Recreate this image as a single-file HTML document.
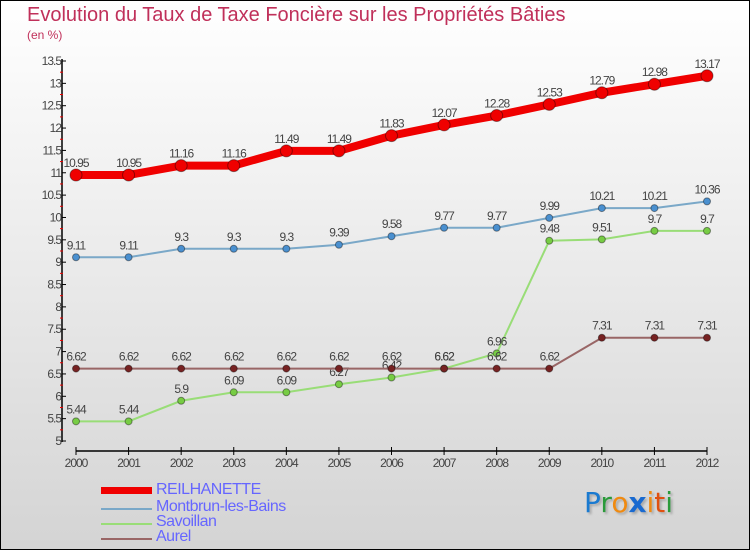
<!DOCTYPE html>
<html><head><meta charset="utf-8"><style>
body{margin:0}
#wrap{position:relative;width:748px;height:548px;border:1px solid #000;background:linear-gradient(#ffffff,#d4d4d4);font-family:"Liberation Sans",sans-serif;overflow:hidden}
.t{position:absolute;color:#c0305a}
.leg{position:absolute;left:155px;font-size:16px;color:#6666ff;letter-spacing:-0.5px}
.ll{position:absolute;left:100px;width:51px}
</style></head><body>
<div id="wrap">
<div class="t" style="left:26px;top:3px;font-size:20px">Evolution du Taux de Taxe Foncière sur les Propriétés Bâties</div>
<div class="t" style="left:26px;top:27px;font-size:12px">(en %)</div>
<svg id="svg" width="748" height="548" style="position:absolute;left:0;top:0"></svg>
<div class="ll" style="top:486px;height:7px;background:#f00000"></div>
<div class="leg" style="top:480px">REILHANETTE</div>
<div class="ll" style="top:507px;height:2px;background:#7aa8c8"></div>
<div class="leg" style="top:497px">Montbrun-les-Bains</div>
<div class="ll" style="top:522px;height:2px;background:#99dd77"></div>
<div class="leg" style="top:512px">Savoillan</div>
<div class="ll" style="top:537px;height:2px;background:#996666"></div>
<div class="leg" style="top:527px">Aurel</div>
<div style="position:absolute;left:583px;top:485px;font-size:28px;font-family:'DejaVu Sans',sans-serif;text-shadow:2px 2px 2px #aaa"><span style="color:#1a7ad0">P</span><span style="color:#2a9a3a">r</span><span style="color:#f08a10">o</span><span style="color:#1a6ad0;font-weight:bold">x</span><span style="color:#f08a10">i</span><span style="color:#e05010">t</span><span style="color:#2a9a3a">i</span></div>
</div>
<script>
const years=["2000","2001","2002","2003","2004","2005","2006","2007","2008","2009","2010","2011","2012"];
const yTicks=[5,5.5,6,6.5,7,7.5,8,8.5,9,9.5,10,10.5,11,11.5,12,12.5,13,13.5];
const reilhanette=[10.95,10.95,11.16,11.16,11.49,11.49,11.83,12.07,12.28,12.53,12.79,12.98,13.17];
const montbrun=[9.11,9.11,9.3,9.3,9.3,9.39,9.58,9.77,9.77,9.99,10.21,10.21,10.36];
const savoillan=[5.44,5.44,5.9,6.09,6.09,6.27,6.42,6.62,6.96,9.48,9.51,9.7,9.7];
const aurel=[6.62,6.62,6.62,6.62,6.62,6.62,6.62,6.62,6.62,6.62,7.31,7.31,7.31];
const svg=document.getElementById('svg');const NS='http://www.w3.org/2000/svg';
const X=i=>75+i*(706-75)/12, Y=v=>440-(v-5)*(380/8.5);
function mk(t,a,p){const e=document.createElementNS(NS,t);for(const k in a)e.setAttribute(k,a[k]);(p||svg).appendChild(e);return e;}
let e;
e=mk('line',{x1:61,y1:58,x2:61,y2:441,stroke:'#000','stroke-width':1.5});


e=mk('line',{x1:75,y1:450,x2:706,y2:450,stroke:'#000','stroke-width':1.5});


yTicks.forEach((v,i)=>{mk('line',{x1:61,x2:65,y1:Y(v),y2:Y(v),stroke:'#000'});
 if(i<yTicks.length-1)mk('line',{x1:59,x2:62,y1:Y(v+0.25),y2:Y(v+0.25),stroke:'#e00'});
 e=mk('text',{x:60,y:Y(v)+4,'text-anchor':'end','font-size':12,fill:'#444','letter-spacing':'-1'});e.textContent=v;
 
 });
years.forEach((y,i)=>{mk('line',{x1:X(i),x2:X(i),y1:446,y2:454,stroke:'#000'});
 e=mk('text',{x:X(i),y:466,'text-anchor':'middle','font-size':12,fill:'#444','letter-spacing':'-1'});e.textContent=y;
 
 });
function series(d,name,col,w,r,fillc){
 const g=mk('g',{});
 mk('polyline',{points:d.map((v,i)=>X(i)+','+Y(v)).join(' '),fill:'none',stroke:col,'stroke-width':w},g);
 d.forEach((v,i)=>{e=mk('circle',{cx:X(i),cy:Y(v),r:r,fill:fillc,stroke:'rgba(0,0,0,0.4)'},g);
  
  
  e=mk('text',{x:X(i),y:Y(v)-8,'text-anchor':'middle','font-size':12,fill:'#444','letter-spacing':'-1'},g);e.textContent=v;
  
  });
}
series(reilhanette,'reilhanette','#f00000',8,6,'#f00000');
series(montbrun,'montbrun','#7aa8c8',2,3.5,'#4a90d0');
series(savoillan,'savoillan','#99dd77',2,3.5,'#77cc44');
series(aurel,'aurel','#996666',2,3.5,'#772222');
</script>
</body></html>
